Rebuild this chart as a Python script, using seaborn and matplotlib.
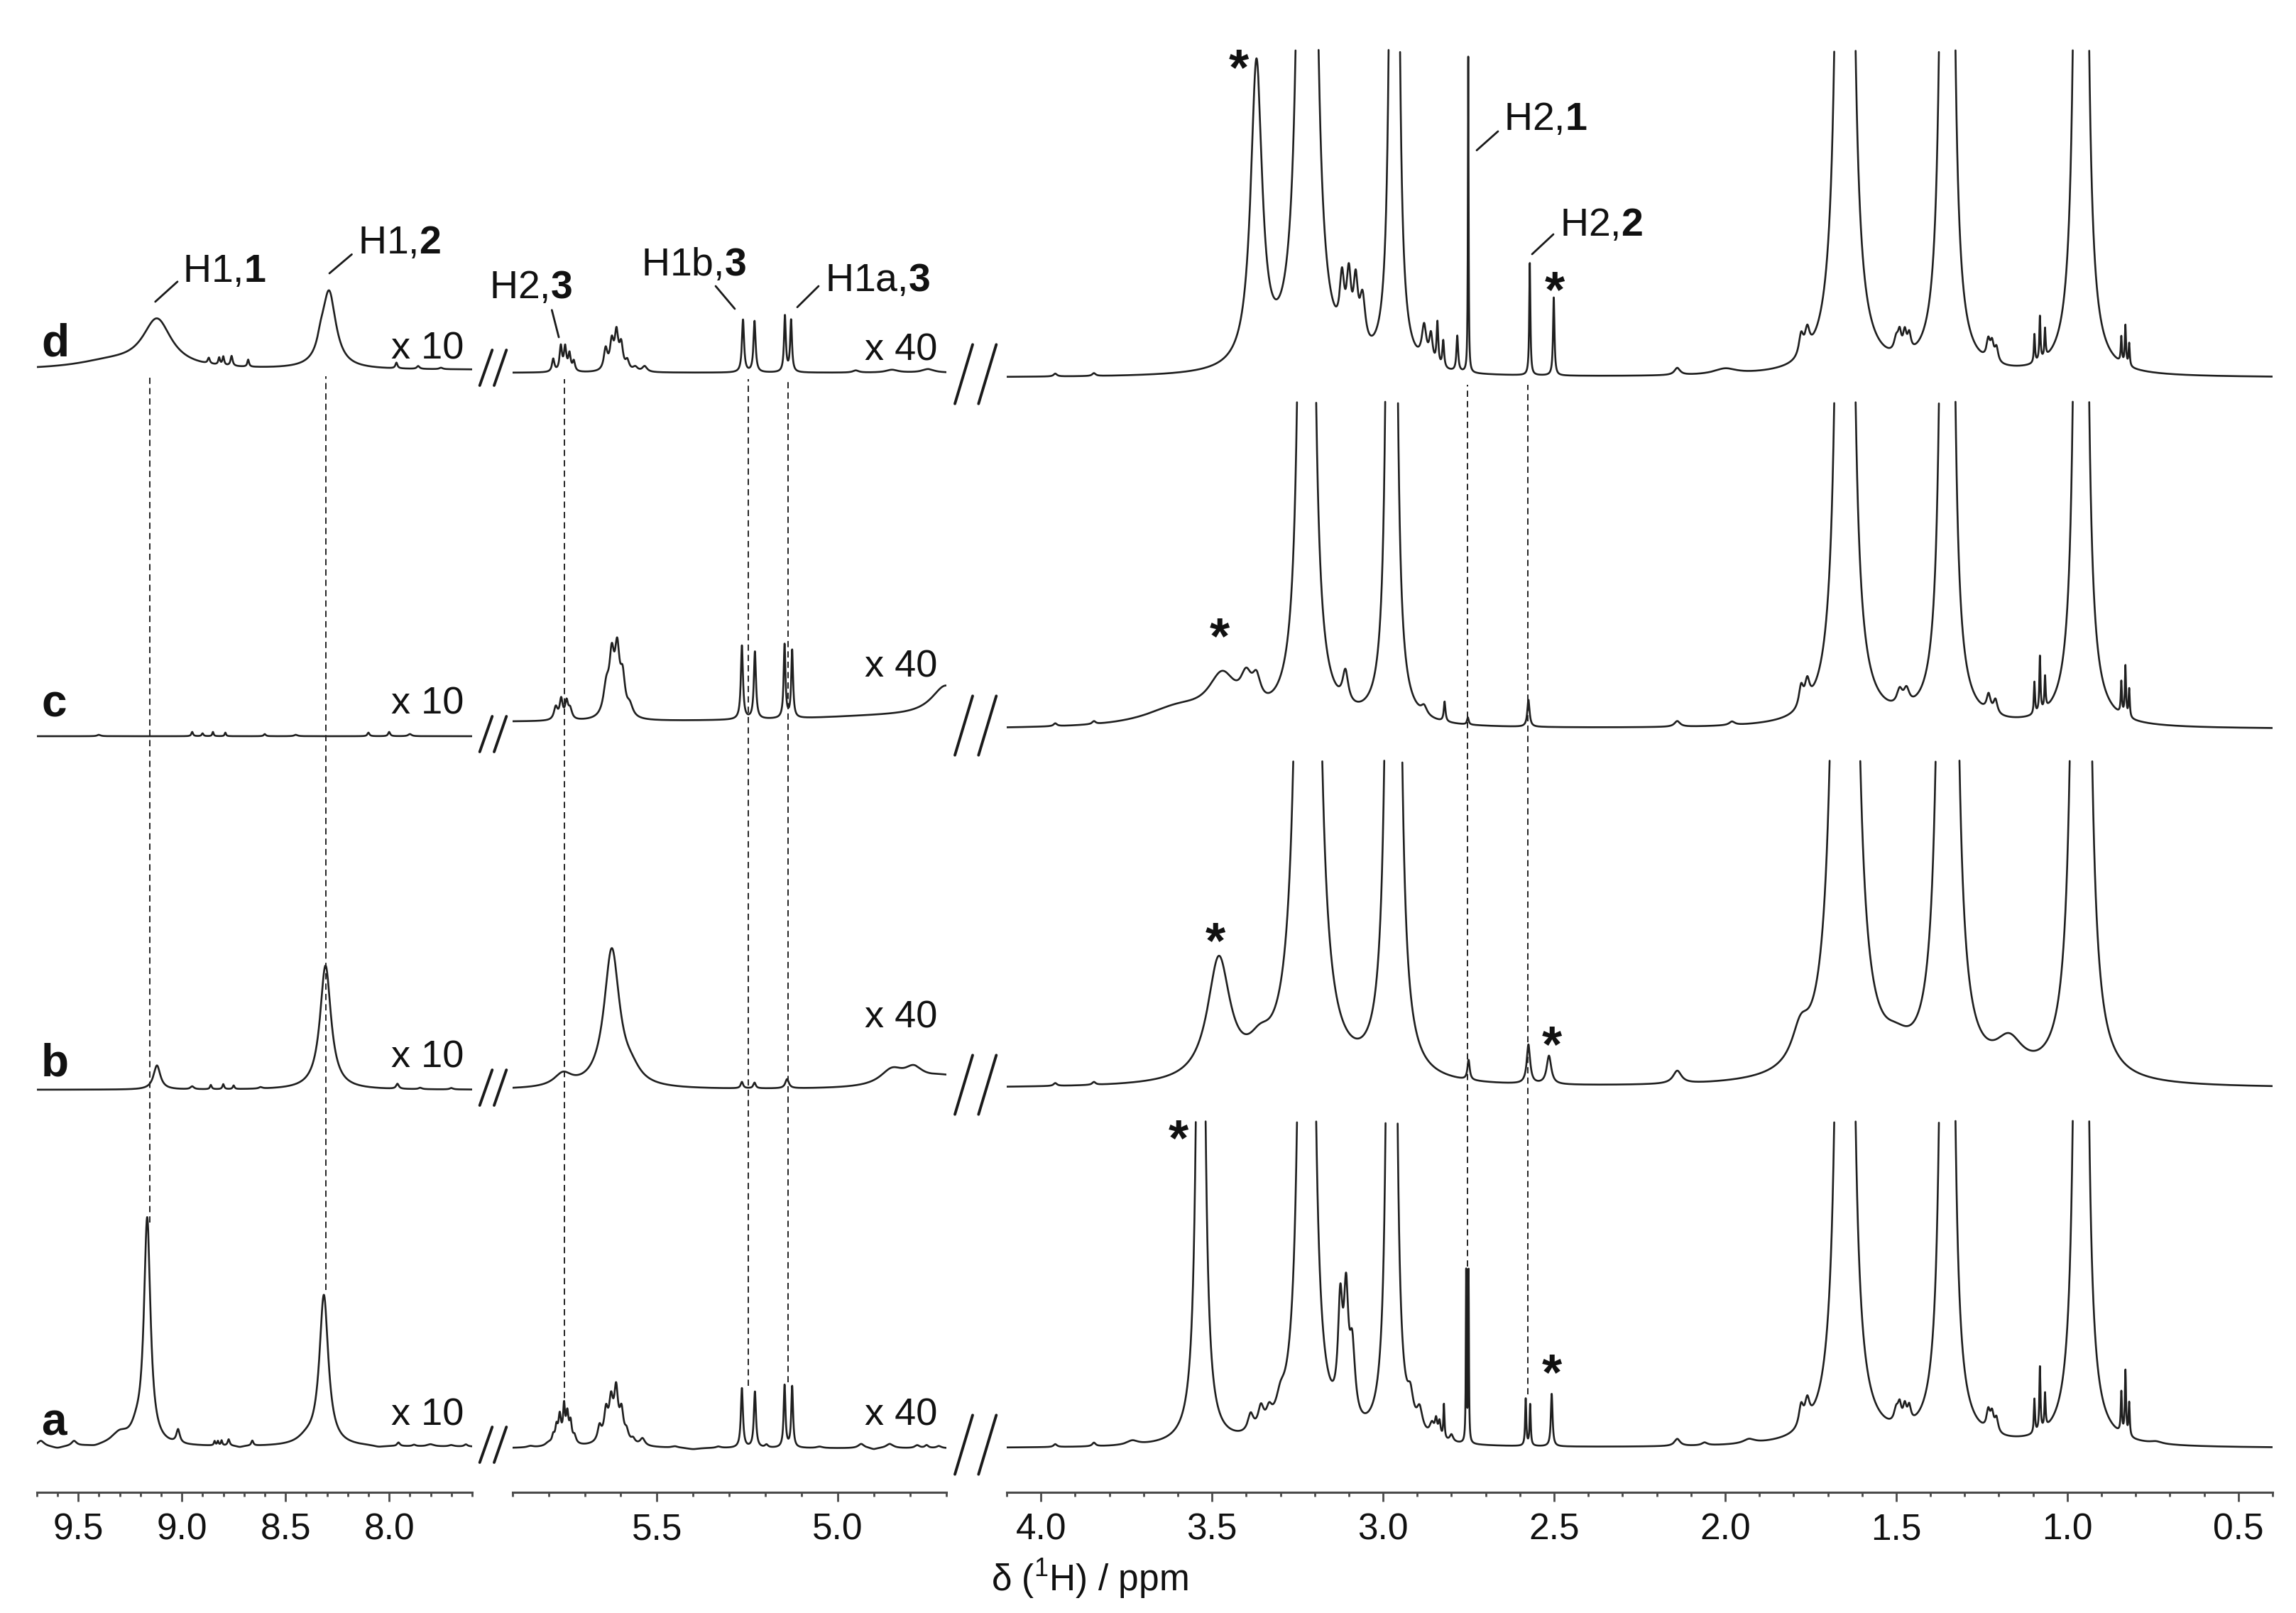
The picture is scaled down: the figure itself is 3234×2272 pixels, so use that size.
import numpy as np
import pandas as pd
import matplotlib
matplotlib.use("Agg")
import matplotlib.pyplot as plt
from matplotlib.lines import Line2D
import seaborn as sns

W, H, DPI = 3234, 2272, 200

# ---------------- data ----------------
spectra = ["a", "b", "c", "d"]
panel_limits = [(9.70, 7.60), (5.90, 4.70), (4.10, 0.40)]
panel_px = [(51.7, 665.0), (721.7, 1332.7), (1418.0, 3201.0)]
major_ticks = [[9.5, 9.0, 8.5, 8.0], [5.5, 5.0], [4.0, 3.5, 3.0, 2.5, 2.0, 1.5, 1.0, 0.5]]
scale_labels = ["x 10", "x 40"]

# baselines of a, b, c, d (px above the x axis line)
baseline_p1 = [64, 567, 1065, 1581]
baseline_p2 = [62, 567, 1085, 1577]
baseline_p3 = [62, 569, 1075, 1570]
clip_height = 462

# peaks: (ppm, height px, half width ppm)
p1_a = [(9.68, 8, 0.02), (9.60, -3, 0.03), (9.52, 7, 0.015), (9.42, -2, 0.03), (9.30, 16, 0.05),
        (9.22, 14, 0.03), (9.167, 318, 0.019), (9.018, 19, 0.010), (8.842, 6, 0.004), (8.826, 6, 0.004),
        (8.808, 7, 0.004), (8.774, 9, 0.006), (8.72, -2, 0.02), (8.66, 7, 0.006), (8.40, 8, 0.05),
        (8.315, 212, 0.026), (8.05, -2, 0.03), (7.955, 5, 0.008), (7.88, 2, 0.01), (7.80, 3, 0.02),
        (7.70, 2, 0.015), (7.63, 3, 0.01)]
p1_b = [(9.12, 34, 0.02), (8.95, 4, 0.01), (8.86, 6, 0.005), (8.80, 7, 0.005), (8.75, 5, 0.005),
        (8.62, 2, 0.01), (8.307, 175, 0.032), (7.96, 7, 0.008), (7.85, 2, 0.01), (7.70, 2, 0.01)]
p1_c = [(9.40, 2, 0.01), (8.95, 6, 0.005), (8.90, 4, 0.005), (8.85, 6, 0.004), (8.79, 5, 0.004),
        (8.60, 3, 0.006), (8.45, 2, 0.01), (8.10, 5, 0.006), (8.00, 6, 0.006), (7.90, 3, 0.01)]
p1_d = [(9.35, 10, 0.2), (9.12, 68, 0.085), (8.87, 8, 0.006), (8.82, 10, 0.005), (8.80, 12, 0.005),
        (8.76, 14, 0.006), (8.68, 10, 0.005), (8.33, 15, 0.02), (8.29, 108, 0.04), (7.965, 8, 0.006),
        (7.86, 4, 0.008), (7.75, 2, 0.01)]

p2_a = [(5.85, 2, 0.01), (5.80, 4, 0.01), (5.76, 12, 0.02), (5.787, 10, 0.004), (5.778, 20, 0.004),
        (5.769, 32, 0.004), (5.757, 42, 0.003), (5.748, 35, 0.004), (5.739, 26, 0.004), (5.728, 10, 0.005),
        (5.62, 22, 0.03), (5.659, 20, 0.006), (5.641, 35, 0.006), (5.627, 42, 0.006), (5.613, 58, 0.006),
        (5.598, 35, 0.006), (5.584, 12, 0.006), (5.566, 6, 0.006), (5.540, 10, 0.008), (5.45, 2, 0.01),
        (5.40, -2, 0.02), (5.33, 2, 0.008), (5.265, 84, 0.0035), (5.229, 79, 0.0035), (5.197, 4, 0.005),
        (5.147, 88, 0.003), (5.126, 86, 0.003), (5.05, 2, 0.01), (4.935, 6, 0.01), (4.90, -2, 0.01),
        (4.856, 6, 0.012), (4.78, 4, 0.008), (4.754, 4, 0.006), (4.72, 3, 0.008)]
p2_b = [(5.76, 18, 0.03), (5.625, 195, 0.026), (5.57, 15, 0.03), (5.265, 9, 0.004), (5.23, 8, 0.004),
        (5.14, 13, 0.006), (4.85, 22, 0.04), (4.79, 18, 0.03), (4.70, 18, 0.1)]
p2_c = [(5.78, 18, 0.006), (5.765, 28, 0.005), (5.75, 24, 0.005), (5.74, 14, 0.006), (5.64, 40, 0.01),
        (5.625, 75, 0.008), (5.61, 85, 0.008), (5.595, 50, 0.008), (5.575, 15, 0.01), (5.265, 104, 0.0035),
        (5.229, 95, 0.0035), (5.147, 104, 0.003), (5.126, 95, 0.003), (4.85, 8, 0.3), (4.70, 45, 0.05)]
p2_d = [(5.787, 18, 0.004), (5.766, 35, 0.004), (5.754, 33, 0.004), (5.742, 24, 0.004), (5.730, 14, 0.004),
        (5.642, 30, 0.006), (5.625, 38, 0.006), (5.612, 50, 0.006), (5.599, 34, 0.006), (5.582, 13, 0.006),
        (5.56, 6, 0.008), (5.534, 8, 0.008), (5.262, 74, 0.0035), (5.230, 72, 0.0035), (5.146, 79, 0.003),
        (5.129, 73, 0.003), (4.95, 3, 0.01), (4.85, 4, 0.02), (4.75, 5, 0.02)]

p3_a = [(3.958, 4, 0.006), (3.845, 5, 0.006), (3.733, 6, 0.02), (3.533, 1500, 0.0095), (3.387, 25, 0.01),
        (3.357, 30, 0.01), (3.333, 20, 0.01), (3.30, 25, 0.015), (3.2235, 40000, 0.003), (3.125, 150, 0.008),
        (3.108, 160, 0.008), (3.09, 100, 0.01), (2.975, 16000, 0.003), (2.92, 35, 0.01), (2.893, 30, 0.01),
        (2.857, 18, 0.008), (2.845, 22, 0.004), (2.835, 22, 0.004), (2.822, 48, 0.002), (2.80, 10, 0.006),
        (2.757, 240, 0.0012), (2.750, 240, 0.0012), (2.583, 66, 0.002), (2.570, 58, 0.002), (2.507, 74, 0.003),
        (2.14, 10, 0.01), (2.06, 4, 0.01), (1.93, 6, 0.02), (1.778, 30, 0.008), (1.760, 30, 0.008),
        (1.65, 50000, 0.003), (1.50, 20, 0.008), (1.49, 24, 0.006), (1.475, 24, 0.006), (1.462, 22, 0.006),
        (1.351, 30000, 0.003), (1.231, 26, 0.006), (1.22, 24, 0.006), (1.207, 20, 0.006), (1.096, 48, 0.002),
        (1.080, 90, 0.002), (1.065, 48, 0.002), (0.96, 30000, 0.003), (0.842, 57, 0.002), (0.830, 90, 0.002),
        (0.819, 47, 0.002), (0.74, 3, 0.02)]
p3_b = [(3.958, 4, 0.006), (3.845, 4, 0.006), (3.48, 170, 0.04), (3.36, 30, 0.04), (3.22, 90000, 0.003),
        (2.97, 35000, 0.003), (2.75, 28, 0.004), (2.575, 55, 0.006), (2.515, 40, 0.008), (2.14, 18, 0.015),
        (1.78, 45, 0.03), (1.65, 100000, 0.003), (1.50, 25, 0.05), (1.35, 60000, 0.003), (1.17, 45, 0.05),
        (0.96, 55000, 0.003)]
p3_c = [(3.958, 4, 0.006), (3.845, 4, 0.006), (3.60, 25, 0.12), (3.47, 60, 0.05), (3.40, 40, 0.02),
        (3.37, 35, 0.015), (3.2235, 40000, 0.003), (3.11, 45, 0.01), (2.975, 18000, 0.003), (2.88, 12, 0.01),
        (2.82, 28, 0.003), (2.752, 10, 0.003), (2.575, 38, 0.004), (2.14, 8, 0.01), (1.98, 5, 0.01),
        (1.778, 30, 0.008), (1.76, 30, 0.008), (1.65, 50000, 0.003), (1.49, 22, 0.01), (1.47, 22, 0.01),
        (1.351, 30000, 0.003), (1.23, 24, 0.007), (1.21, 20, 0.007), (1.096, 45, 0.002), (1.080, 78, 0.002),
        (1.065, 45, 0.002), (0.96, 30000, 0.003), (0.842, 45, 0.002), (0.830, 70, 0.002), (0.819, 40, 0.002)]
p3_d = [(3.958, 4, 0.006), (3.845, 4, 0.006), (3.370, 425, 0.02), (3.222, 57000, 0.003), (3.12, 80, 0.008),
        (3.10, 90, 0.008), (3.08, 85, 0.008), (3.06, 70, 0.01), (2.967, 14500, 0.003), (2.88, 50, 0.008),
        (2.86, 40, 0.006), (2.841, 60, 0.003), (2.824, 38, 0.003), (2.783, 50, 0.003), (2.751, 445, 0.0012),
        (2.571, 158, 0.002), (2.501, 110, 0.0025), (2.14, 10, 0.01), (2.00, 8, 0.04), (1.778, 30, 0.008),
        (1.76, 30, 0.008), (1.65, 50000, 0.003), (1.50, 20, 0.008), (1.49, 26, 0.006), (1.475, 28, 0.006),
        (1.462, 24, 0.006), (1.351, 30000, 0.003), (1.231, 26, 0.006), (1.22, 24, 0.006), (1.207, 20, 0.006),
        (1.096, 40, 0.002), (1.080, 62, 0.002), (1.065, 40, 0.002), (0.96, 30000, 0.003), (0.842, 36, 0.002),
        (0.830, 55, 0.002), (0.819, 32, 0.002)]

# dashed correlation lines: ppm, lower end, upper end (px above axis line)
dash_p1 = [(9.155, 380, 1572), (8.306, 285, 1572)]
dash_p2 = [(5.757, 118, 1568), (5.247, 150, 1568), (5.137, 155, 1568)]
dash_p3 = [(2.753, 318, 1560), (2.576, 138, 1560)]

# ---------------- figure ----------------
sns.set_theme(style="ticks")
plt.rcParams["font.family"] = ["Liberation Sans", "DejaVu Sans"]
plt.rcParams["mathtext.fontset"] = "custom"
plt.rcParams["mathtext.rm"] = "Liberation Sans"
plt.rcParams["mathtext.it"] = "Liberation Sans:italic"
plt.rcParams["mathtext.bf"] = "Liberation Sans:bold"

fig = plt.figure(figsize=(W / DPI, H / DPI), dpi=DPI)
LINE = "#1f1f1f"
AXC = "#4a4a4a"

peaks_all = [[p1_a, p1_b, p1_c, p1_d], [p2_a, p2_b, p2_c, p2_d], [p3_a, p3_b, p3_c, p3_d]]
baselines = [baseline_p1, baseline_p2, baseline_p3]
dashes = [dash_p1, dash_p2, dash_p3]
AX_BOTTOM_PX = 2102.0


def spectrum(x, peaks):
    y = np.zeros_like(x)
    for c, h, g in peaks:
        y += h * g * g / ((x - c) ** 2 + g * g)
    return y


def px2fig(x, y):
    return x / W, 1 - y / H


axes = []
for pi in range(3):
    x0, x1 = panel_px[pi]
    ax = fig.add_axes([x0 / W, (H - AX_BOTTOM_PX) / H, (x1 - x0) / W, AX_BOTTOM_PX / H])
    ax.patch.set_alpha(0)
    left, right = panel_limits[pi]
    step = 0.0001 if pi == 2 else 0.0004
    x = np.arange(right, left + step, step)
    for si in range(4):
        y = spectrum(x, peaks_all[pi][si])
        y = np.where(y > clip_height, np.nan, y)
        yy = y + baselines[pi][si]
        seg = np.cumsum(np.isnan(yy))
        df = pd.DataFrame({"ppm": x, "y": yy, "seg": seg}).dropna()
        sns.lineplot(data=df, x="ppm", y="y", units="seg", estimator=None, sort=False,
                     ax=ax, color=LINE, linewidth=0.95, legend=False)
    for ppm, ylo, yhi in dashes[pi]:
        ax.plot([ppm, ppm], [ylo, yhi], color="#222222", lw=0.7, ls=(0, (4.5, 3)))
    ax.set_xlim(left, right)
    ax.set_ylim(0, AX_BOTTOM_PX)
    ax.set_xlabel("")
    ax.set_ylabel("")
    ax.set_yticks([])
    for s in ["left", "right", "top"]:
        ax.spines[s].set_visible(False)
    ax.spines["bottom"].set_color(AXC)
    ax.spines["bottom"].set_linewidth(1.1)
    ax.set_xticks(major_ticks[pi])
    ax.set_xticklabels([f"{t:.1f}" for t in major_ticks[pi]])
    lo_t = np.ceil(min(left, right) * 10 - 1e-6) / 10
    minor = np.round(np.arange(lo_t, max(left, right) + 1e-6, 0.1), 1)
    ax.set_xticks(minor, minor=True)
    ax.tick_params(axis="x", which="major", direction="out", length=4.7, width=1.0,
                   color=AXC, labelsize=18.5, pad=5.5, labelcolor="#111111")
    ax.tick_params(axis="x", which="minor", direction="out", length=2.2, width=1.0, color=AXC)
    axes.append(ax)

# axis title
fx, fy = px2fig(1535, 2224)
fig.text(fx, fy, r"δ ($^{1}$H) / ppm", ha="center", va="center", fontsize=18.5, color="#111111")

# spectrum letters
letter_base = [2022, 1515, 1010, 502]
for s, yb in zip(spectra, letter_base):
    fx, fy = px2fig(58, yb)
    fig.text(fx, fy, s, ha="left", va="baseline", fontsize=23, fontweight="bold", color="#111111")

# scale factors
x10_base = [2007, 1504, 1005, 505]
x40_base = [2007, 1448, 953, 508]
for yb in x10_base:
    fx, fy = px2fig(653, yb)
    fig.text(fx, fy, scale_labels[0], ha="right", va="baseline", fontsize=19.5, color="#111111")
for yb in x40_base:
    fx, fy = px2fig(1320, yb)
    fig.text(fx, fy, scale_labels[1], ha="right", va="baseline", fontsize=19.5, color="#111111")


# axis-break marks
def slash(xa, ya, xb, yb, lw):
    f0 = px2fig(xa, ya)
    f1 = px2fig(xb, yb)
    fig.add_artist(Line2D([f0[0], f1[0]], [f0[1], f1[1]], transform=fig.transFigure,
                          color="#1a1a1a", lw=lw))


for bl in baseline_p1:
    cy = AX_BOTTOM_PX - bl - 3
    slash(694.5 - 18.8, cy + 25, 694.5 - 1.2, cy - 25, 1.4)
    slash(694.5 + 1.5, cy + 25, 694.5 + 18.8, cy - 25, 1.4)
for bl in baseline_p3:
    cy = AX_BOTTOM_PX - bl - 5
    slash(1374 - 29, cy + 41.7, 1374 - 4, cy - 41.7, 1.4)
    slash(1374 + 4.3, cy + 41.7, 1374 + 29.3, cy - 41.7, 1.4)

# peak assignments
labels = [
    ("H1,$\\mathbf{1}$", 257, 397, (218.7, 425), (250, 396.7)),
    ("H1,$\\mathbf{2}$", 504, 357, (464, 385), (495.5, 358.3)),
    ("H2,$\\mathbf{3}$", 689, 420, (787.1, 475), (777.3, 436.7)),
    ("H1b,$\\mathbf{3}$", 903, 388, (1035, 435), (1008, 403)),
    ("H1a,$\\mathbf{3}$", 1162, 410, (1123, 432.7), (1153, 403)),
    ("H2,$\\mathbf{1}$", 2118, 183, (2080, 211.7), (2110, 185)),
    ("H2,$\\mathbf{2}$", 2197, 332, (2158, 358), (2188, 330)),
]
for txt, tx, ty, p0, p1 in labels:
    fx, fy = px2fig(tx, ty)
    fig.text(fx, fy, txt, ha="left", va="baseline", fontsize=20, color="#111111")
    slash(p0[0], p0[1], p1[0], p1[1], 1.0)

# solvent / impurity markers
stars = [(1745, 90), (2190, 403), (1718, 891), (1712, 1320), (2186, 1466), (1660, 1598), (2186, 1928)]
for sx, sy in stars:
    fx, fy = px2fig(sx, sy + 10)
    fig.text(fx, fy, "*", ha="center", va="center", fontsize=26, fontweight="bold", color="#111111")

fig.savefig("out.png", dpi=DPI, facecolor="white")
